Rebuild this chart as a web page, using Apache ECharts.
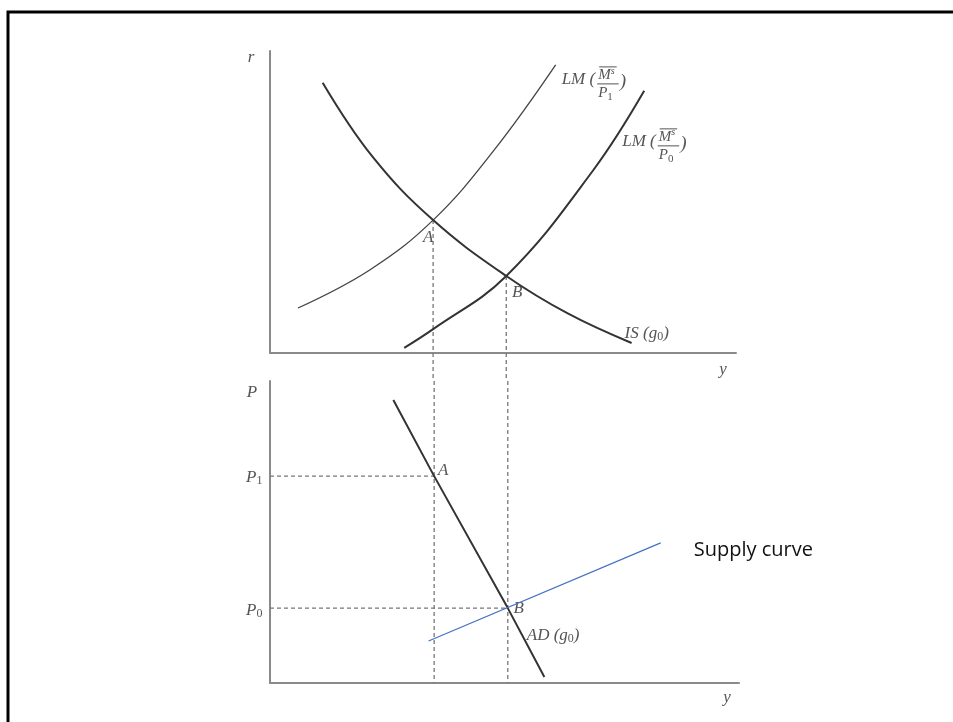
<!DOCTYPE html>
<html>
<head>
<meta charset="utf-8">
<script src="https://cdn.jsdelivr.net/npm/echarts@6/dist/echarts.min.js"></script>
<style>
  html, body { margin: 0; padding: 0; background: #fff; }
  #main { width: 953px; height: 722px; }
</style>
</head>
<body>
<div id="main"></div>
<script>
// upper panel: output y against interest rate r
var isCurve = [[11.3, 89.5], [22, 65], [35, 44], [50.7, 25.5], [64, 13], [77.6, 3.3]];
var lmP1 = [[6, 14.9], [21.4, 27.5], [35, 44], [48, 67], [61.3, 95.4]];
var lmP0 = [[28.8, 1.7], [35, 7.9], [50.7, 25.5], [69.4, 60.6], [80.3, 86.8]];
// lower panel: output y against price level P
var adCurve = [[26.3, 93.7], [35, 68.5], [50.7, 24.8], [58.5, 2.0]];
var supplyCurve = [[33.8, 13.9], [83.3, 46.4]];
// equilibrium points A and B
var outA = 35, outB = 50.7;
var rateA = 44, rateB = 25.5;
var priceA = 68.5, priceB = 24.8; // P1, P0

var g1 = { left: 270, top: 51, width: 466, height: 302 };
var g2 = { left: 270, top: 381, width: 469, height: 302 };
// dashed verticals run across the gap between the two panels
var gapUnits = (g2.top - (g1.top + g1.height)) / (g1.height / 100);

var chart = echarts.init(document.getElementById('main'));

function axis(gi) {
    return {
        type: 'value', gridIndex: gi, min: 0, max: 100,
        axisLine: { show: true, onZero: false, lineStyle: { color: '#8a8a8a', width: 2 } },
        axisTick: { show: false }, axisLabel: { show: false }, splitLine: { show: false }
    };
}

function curve(data, gi, color, width, dash, smooth) {
    return {
        type: 'line', xAxisIndex: gi, yAxisIndex: gi, data: data,
        symbol: 'none', smooth: smooth || false, clip: false, silent: true,
        lineStyle: { color: color, width: width, type: dash || 'solid' }
    };
}

var dashStyle = [4, 3];

chart.setOption({
    animation: false,
    backgroundColor: '#ffffff',
    grid: [g1, g2],
    xAxis: [axis(0), axis(1)],
    yAxis: [axis(0), axis(1)],
    series: [
        curve([[outA, rateA], [outA, -gapUnits]], 0, '#777', 1.3, dashStyle),
        curve([[outB, rateB], [outB, -gapUnits]], 0, '#777', 1.3, dashStyle),
        curve([[outA, 100], [outA, 0]], 1, '#777', 1.3, dashStyle),
        curve([[outB, 100], [outB, 0]], 1, '#777', 1.3, dashStyle),
        curve([[0, priceA], [outA, priceA]], 1, '#777', 1.3, dashStyle),
        curve([[0, priceB], [outB, priceB]], 1, '#777', 1.3, dashStyle),
        curve(lmP1, 0, '#444', 1.3, null, 0.4),
        curve(lmP0, 0, '#333', 2, null, 0.4),
        curve(isCurve, 0, '#333', 2, null, 0.4),
        curve(adCurve, 1, '#333', 2),
        curve(supplyCurve, 1, '#4472C4', 1.2)
    ]
});

var ctx = document.createElement('canvas').getContext('2d');
var SERIF = '"Liberation Serif", "DejaVu Serif", serif';
var INK = '#555';

function fontOf(size, upright) { return (upright ? '' : 'italic ') + size + 'px ' + SERIF; }
function measure(t, size, upright) { ctx.font = fontOf(size, upright); return ctx.measureText(t).width; }

// row of text pieces: [text, size, dy, upright]
function row(x, y, parts) {
    var out = [];
    parts.forEach(function (p) {
        out.push({
            type: 'text', silent: true,
            style: { text: p[0], x: x, y: y + (p[2] || 0), font: fontOf(p[1], p[3]), fill: INK,
                     textAlign: 'left', textVerticalAlign: 'middle' }
        });
        x += measure(p[0], p[1], p[3]);
    });
    return out;
}

// LM( M^s / P_k ) label, x = left edge, y = middle of "LM("
function lmLabel(x, y, sub) {
    var els = row(x, y, [['LM (', 17]]);
    var fx = x + measure('LM (', 17) + 2;
    var mw = measure('M', 15);
    els = els.concat(row(fx + 1, y - 5, [['M', 15], ['s', 10, -4]]));
    els.push({ type: 'line', silent: true, shape: { x1: fx + 2, y1: y - 13, x2: fx + mw + 7, y2: y - 13 },
               style: { stroke: INK, lineWidth: 1 } });
    els.push({ type: 'line', silent: true, shape: { x1: fx, y1: y + 4, x2: fx + mw + 9, y2: y + 4 },
               style: { stroke: INK, lineWidth: 1 } });
    els = els.concat(row(fx + 1, y + 13, [['P', 15], [sub, 11, 4, true]]));
    els = els.concat(row(fx + mw + 10, y + 2, [[')', 19]]));
    return els;
}

function px(gi, pt, dx, dy) {
    var p = chart.convertToPixel({ gridIndex: gi }, pt);
    return [p[0] + dx, p[1] + dy];
}

function letter(gi, pt, dx, dy, t) {
    var p = px(gi, pt, dx, dy);
    return { type: 'text', silent: true,
             style: { text: t, x: p[0], y: p[1], font: fontOf(17), fill: INK,
                      textAlign: 'center', textVerticalAlign: 'middle' } };
}

var els = [];
els.push({ type: 'rect', silent: true, shape: { x: 8, y: 12, width: 1000, height: 1000 },
           style: { fill: 'none', stroke: '#000', lineWidth: 3 } });
els.push(letter(0, [0, 100], -19, 7, 'r'));
els.push(letter(0, [100, 0], -13, 17, 'y'));
els.push(letter(0, [outA, rateA], -5, 17, 'A'));
els.push(letter(0, [outB, rateB], 11, 17, 'B'));
var p = px(0, isCurve[isCurve.length - 1], -7, -10);
els = els.concat(row(p[0], p[1], [['IS (g', 17], ['0', 12, 4, true], [')', 17]]));
p = px(0, lmP1[lmP1.length - 1], 6, 15);
els = els.concat(lmLabel(p[0], p[1], '1'));
p = px(0, lmP0[lmP0.length - 1], -22, 51);
els = els.concat(lmLabel(p[0], p[1], '0'));

els.push(letter(1, [0, 100], -18, 12, 'P'));
p = px(1, [0, priceA], -24, 1);
els = els.concat(row(p[0], p[1], [['P', 17], ['1', 12, 4, true]]));
p = px(1, [0, priceB], -24, 2);
els = els.concat(row(p[0], p[1], [['P', 17], ['0', 12, 4, true]]));
els.push(letter(1, [outA, priceA], 9, -6, 'A'));
els.push(letter(1, [outB, priceB], 11, 0, 'B'));
p = px(1, [outB, priceB], 19, 27);
els = els.concat(row(p[0], p[1], [['AD (g', 17], ['0', 12, 4, true], [')', 17]]));
els.push(letter(1, [100, 0], -12, 15, 'y'));
p = px(1, supplyCurve[1], 33, 7);
els.push({ type: 'text', silent: true,
           style: { text: 'Supply curve', x: p[0], y: p[1], font: '20px "Open Sans", sans-serif',
                    fill: '#111', textAlign: 'left', textVerticalAlign: 'middle' } });

chart.setOption({ graphic: { elements: els } });
</script>
</body>
</html>
